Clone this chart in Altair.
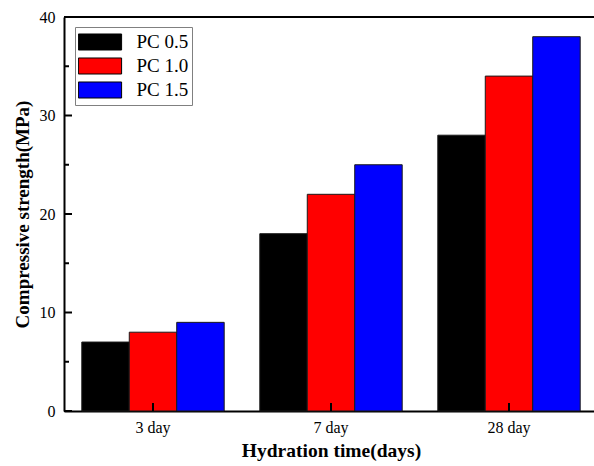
import altair as alt
import pandas as pd

days = ["3 day", "7 day", "28 day"]
series = ["PC 0.5", "PC 1.0", "PC 1.5"]
pc05 = [7, 18, 28]
pc10 = [8, 22, 34]
pc15 = [9, 25, 38]
colors = ["#000000", "#ff0000", "#0000ff"]
y_major = [0, 10, 20, 30, 40]
y_minor = [5, 15, 25, 35]
y_top = [40]

rows = []
for s, vals in zip(series, [pc05, pc10, pc15]):
    for d, v in zip(days, vals):
        rows.append({"day": d, "series": s, "value": v})
df = pd.DataFrame(rows)

W, H = 530, 394
FONT = "Liberation Serif"

xscale = alt.Scale(domain=days, range=[0, 534], paddingInner=0.2, paddingOuter=0.1)
yscale = alt.Scale(domain=[0, 40], nice=False)

xaxis = alt.Axis(title="Hydration time(days)", labelAngle=0, ticks=False,
                 domainWidth=2, domainColor="black",
                 labelFont=FONT, labelFontSize=16, labelColor="black", labelPadding=8,
                 titleFont=FONT, titleFontSize=19.5, titleFontWeight="bold",
                 titleColor="black", titlePadding=6)
yaxis = alt.Axis(title="Compressive strength(MPa)", values=y_major, ticks=False, grid=False,
                 domainWidth=2, domainColor="black",
                 labelFont=FONT, labelFontSize=16, labelColor="black", labelPadding=9,
                 titleFont=FONT, titleFontSize=19, titleFontWeight="bold",
                 titleColor="black", titlePadding=7)

bars = alt.Chart(df).mark_bar(stroke="#1a1a1a", strokeWidth=1).encode(
    x=alt.X("day:N", scale=xscale, sort=days, axis=xaxis),
    xOffset=alt.XOffset("series:N", sort=series, scale=alt.Scale(paddingInner=0, paddingOuter=0)),
    y=alt.Y("value:Q", scale=yscale, axis=yaxis),
    color=alt.Color("series:N", sort=series, scale=alt.Scale(domain=series, range=colors),
                    legend=alt.Legend(title=None, orient="none", legendX=11, legendY=10,
                                      symbolType="M-1.8,-0.667H1.8V0.667H-1.8Z",
                                      symbolSize=576, symbolStrokeColor="black",
                                      symbolStrokeWidth=1, symbolOffset=9.5,
                                      clipHeight=24,
                                      labelFont=FONT, labelFontSize=19, labelColor="black",
                                      labelOffset=24, strokeColor="#808080", padding=3,
                                      rowPadding=0)),
)

top_line = alt.Chart(pd.DataFrame({"value": y_top})).mark_rule(color="black", strokeWidth=2).encode(
    y=alt.Y("value:Q", scale=yscale, axis=yaxis), x=alt.value(0), x2=alt.value(W))

major_ticks = alt.Chart(pd.DataFrame({"value": y_major})).mark_rule(color="black", strokeWidth=2).encode(
    y=alt.Y("value:Q", scale=yscale, axis=yaxis), x=alt.value(0), x2=alt.value(8))

minor_ticks = alt.Chart(pd.DataFrame({"value": y_minor})).mark_rule(color="black", strokeWidth=2).encode(
    y=alt.Y("value:Q", scale=yscale, axis=yaxis), x=alt.value(0), x2=alt.value(5))

x_ticks = alt.Chart(pd.DataFrame({"day": days})).mark_rule(color="black", strokeWidth=2).encode(
    x=alt.X("day:N", scale=xscale, sort=days, axis=xaxis), y=alt.value(H), y2=alt.value(H - 8))

chart = alt.layer(bars, top_line, major_ticks, minor_ticks, x_ticks).properties(
    width=W, height=H,
    autosize=alt.AutoSizeParams(type="none"),
    padding={"left": 64, "top": 17, "right": 0, "bottom": 55},
    background="white",
).configure_view(stroke=None)

chart.save("out.html", embed_options={"renderer": "svg", "actions": False})
